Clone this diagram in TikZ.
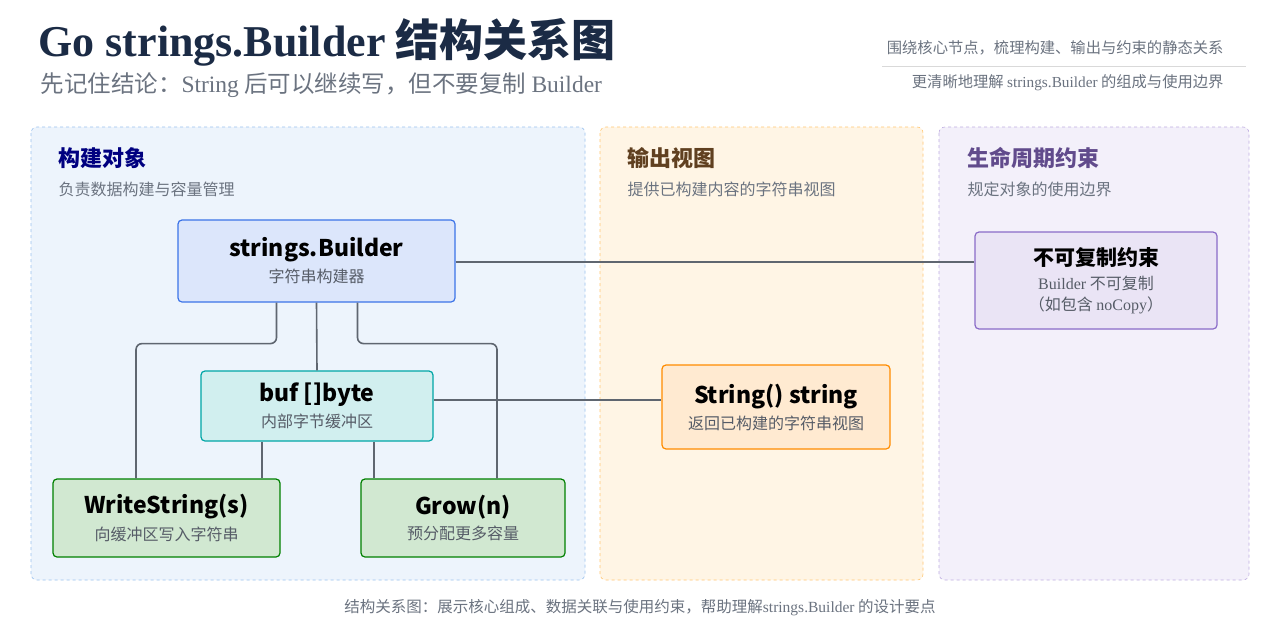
\documentclass[tikz,border=0pt]{standalone}
\usepackage{fontspec}
\setmainfont{Noto Sans CJK SC}
\newfontfamily\serifcjk{Liberation Serif}
\newfontfamily\cjk{Noto Sans CJK SC}
\usetikzlibrary{positioning,calc}
\definecolor{inkblue}{HTML}{1B2B45}
\definecolor{greytext}{HTML}{6B7380}
\definecolor{linkgrey}{HTML}{5F6670}
\definecolor{lilac}{HTML}{8A6BC8}
\definecolor{skyblue}{HTML}{4A90E2}

\tikzset{
  panel/.style={draw=#1!55, dashed, fill=#1!10, rounded corners=6pt, line width=0.6pt},
  box/.style={draw=#1, fill=#1!18, rounded corners=4pt, line width=1.2pt, align=center, inner sep=0pt},
  link/.style={draw=linkgrey, line width=1.6pt, rounded corners=6pt},
  ptitle/.style={anchor=west, font=\fontsize{22}{26}\selectfont\bfseries},
  psub/.style={anchor=west, text=greytext, font=\fontsize{16}{20}\selectfont},
}
\newcommand{\boxtext}[2]{{\fontsize{23}{27}\selectfont\bfseries #1}\\[6pt]{\fontsize{16}{20}\selectfont\color{greytext!80!black} #2}}
\newcommand{\subline}[1]{{\fontsize{16}{20}\selectfont\color{greytext!80!black} #1}}

\begin{document}
\begin{tikzpicture}[x=1pt,y=-1pt]
\useasboundingbox[fill=white] (0,0) rectangle (1280,640);

% title block
\node[anchor=west, text=inkblue] (title) at (35,42) {\fontsize{44}{52}\selectfont\bfseries{\serifcjk Go strings.Builder} 结构关系图};
\node[anchor=west, text=greytext] (subtitle) at (37,85) {\fontsize{23.5}{28}\selectfont 先记住结论：{\serifcjk String} 后可以继续写，但不要复制 {\serifcjk Builder}};
\node[anchor=east, text=greytext, font=\fontsize{15.3}{18}\selectfont] (note1) at (1227,48) {围绕核心节点，梳理构建、输出与约束的静态关系};
\node[anchor=east, text=greytext, font=\fontsize{15.3}{18}\selectfont] (note2) at (1227,83) {更清晰地理解 {\serifcjk strings.Builder} 的组成与使用边界};
\draw[gray!30, line width=0.8pt] (882,66) -- (1246,66);

% panels
\draw[panel=skyblue] (31,127) rectangle (585,580);
\draw[panel=orange!80!yellow] (600,127) rectangle (923,580);
\draw[panel=lilac] (939,127) rectangle (1249,580);

\node[ptitle, text=blue!50!black] (t1) at (55,158) {构建对象};
\node[psub] (s1) at (55,189) {负责数据构建与容量管理};
\node[ptitle, text=brown!50!black] (t2) at (624,158) {输出视图};
\node[psub] (s2) at (624,189) {提供已构建内容的字符串视图};
\node[ptitle, text=lilac!70!black] (t3) at (964,158) {生命周期约束};
\node[psub] (s3) at (964,189) {规定对象的使用边界};

% nodes
\node[box=skyblue!80!blue, minimum width=277pt, minimum height=82pt] (builder) at (316.5,261) {\boxtext{strings.Builder}{字符串构建器}};
\node[box=teal!70!cyan, minimum width=232pt, minimum height=70pt] (buf) at (317,406) {\boxtext{buf []byte}{内部字节缓冲区}};
\node[box=green!50!black, minimum width=227pt, minimum height=78pt] (ws) at (166.5,518) {\boxtext{WriteString(s)}{向缓冲区写入字符串}};
\node[box=green!50!black, minimum width=204pt, minimum height=78pt] (grow) at (463,518) {\boxtext{Grow(n)}{预分配更多容量}};
\node[box=orange!90!yellow, minimum width=228pt, minimum height=84pt] (str) at (776,407) {\boxtext{String() string}{返回已构建的字符串视图}};
\node[box=lilac, minimum width=242pt, minimum height=97pt] (nocopy) at (1096,280.5) {{\fontsize{21}{25}\selectfont\bfseries 不可复制约束}\\[8pt]\subline{{\serifcjk Builder} 不可复制}\\[5pt]\subline{（如包含 {\serifcjk noCopy}）}};

% connectors
\draw[link] (builder.east |- 0,262) -- (nocopy.west |- 0,262);
\draw[link] (buf.east |- 0,400) -- (str.west |- 0,400);
\draw[link] (builder.south) -- (buf.north);
\draw[link] ([xshift=-40pt]builder.south) -- ++(0,41) -| (ws.north -| 136,0);
\draw[link] ([xshift=41pt]builder.south) -- ++(0,41) -| (grow.north -| 497,0);
\draw[link] (buf.south -| 262,0) -- (ws.north -| 262,0);
\draw[link] (buf.south -| 374,0) -- (grow.north -| 374,0);

% caption
\node[text=greytext, font=\fontsize{15.5}{18}\selectfont] (caption) at (640,608) {结构关系图：展示核心组成、数据关联与使用约束，帮助理解{\serifcjk strings.Builder} 的设计要点};
\end{tikzpicture}
\end{document}
